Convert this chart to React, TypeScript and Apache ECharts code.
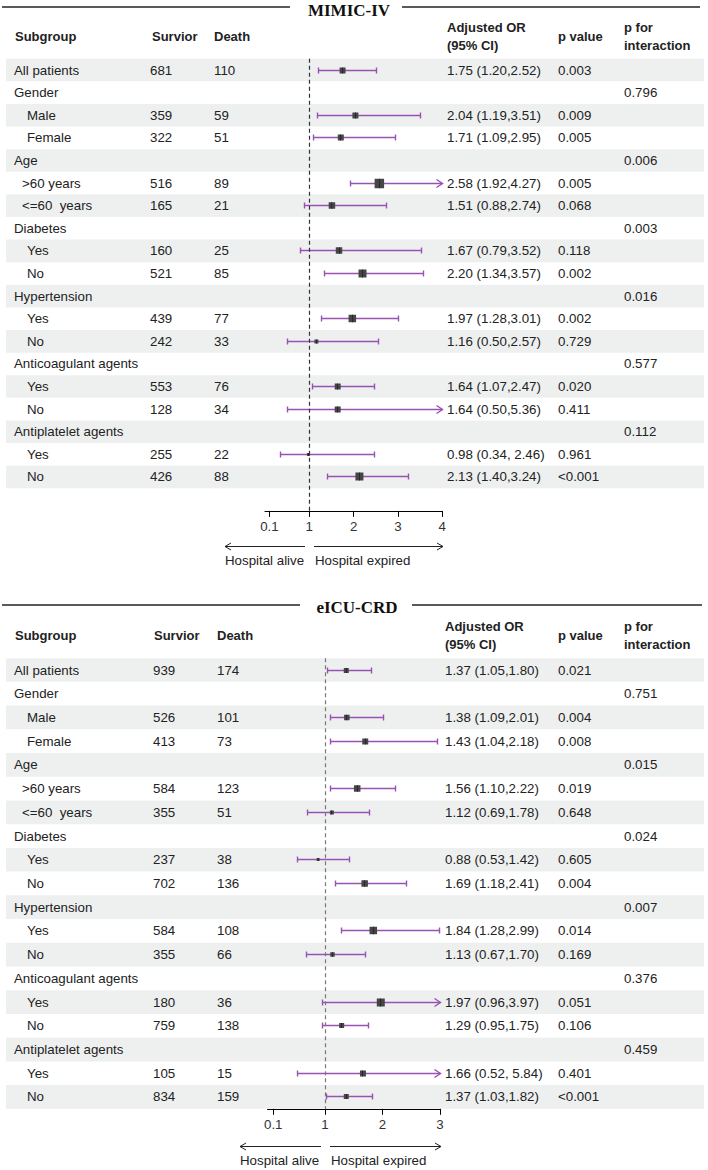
import React, { useEffect, useRef } from "react";
import * as echarts from "echarts";

const FONT = '"Liberation Sans", Arial, Helvetica, sans-serif';
const SERIF = '"Liberation Serif", "Times New Roman", serif';
const CI_COLOR = "#9a52b2";
const BOX_COLOR = "#454545";
const TEXT_COLOR = "#222";
const STRIPE = "#eef0f0";
const FS = 13.3;

// ---------- shared row structure ----------
const rowLabels = [
  "All patients", "Gender", "Male", "Female", "Age", ">60 years", "<=60  years",
  "Diabetes", "Yes", "No", "Hypertension", "Yes", "No",
  "Anticoagulant agents", "Yes", "No", "Antiplatelet agents", "Yes", "No",
];
const rowLevels = [0, 0, 1, 1, 0, 1, 1, 0, 1, 1, 0, 1, 1, 0, 1, 1, 0, 1, 1];

// ---------- MIMIC-IV ----------
const mimicSurvivor = [681, null, 359, 322, null, 516, 165, null, 160, 521, null, 439, 242, null, 553, 128, null, 255, 426];
const mimicDeath = [110, null, 59, 51, null, 89, 21, null, 25, 85, null, 77, 33, null, 76, 34, null, 22, 88];
const mimicOrText = [
  "1.75 (1.20,2.52)", "", "2.04 (1.19,3.51)", "1.71 (1.09,2.95)", "", "2.58 (1.92,4.27)", "1.51 (0.88,2.74)",
  "", "1.67 (0.79,3.52)", "2.20 (1.34,3.57)", "", "1.97 (1.28,3.01)", "1.16 (0.50,2.57)",
  "", "1.64 (1.07,2.47)", "1.64 (0.50,5.36)", "", "0.98 (0.34, 2.46)", "2.13 (1.40,3.24)",
];
const mimicP = ["0.003", "", "0.009", "0.005", "", "0.005", "0.068", "", "0.118", "0.002", "", "0.002", "0.729", "", "0.020", "0.411", "", "0.961", "<0.001"];
const mimicPInt = ["", "0.796", "", "", "0.006", "", "", "0.003", "", "", "0.016", "", "", "0.577", "", "", "0.112", "", ""];
const mimicOr = [1.75, null, 2.04, 1.71, null, 2.58, 1.51, null, 1.67, 2.2, null, 1.97, 1.16, null, 1.64, 1.64, null, 0.98, 2.13];
const mimicLo = [1.2, null, 1.19, 1.09, null, 1.92, 0.88, null, 0.79, 1.34, null, 1.28, 0.5, null, 1.07, 0.5, null, 0.34, 1.4];
const mimicHi = [2.52, null, 3.51, 2.95, null, 4.27, 2.74, null, 3.52, 3.57, null, 3.01, 2.57, null, 2.47, 5.36, null, 2.46, 3.24];
const mimicWeight = [6, null, 6, 6, null, 9.5, 6.5, null, 6.5, 8, null, 7.5, 4, null, 6, 6, null, 3, 8];
const mimicTicks = [0.1, 1, 2, 3, 4];

// ---------- eICU-CRD ----------
const eicuSurvivor = [939, null, 526, 413, null, 584, 355, null, 237, 702, null, 584, 355, null, 180, 759, null, 105, 834];
const eicuDeath = [174, null, 101, 73, null, 123, 51, null, 38, 136, null, 108, 66, null, 36, 138, null, 15, 159];
const eicuOrText = [
  "1.37 (1.05,1.80)", "", "1.38 (1.09,2.01)", "1.43 (1.04,2.18)", "", "1.56 (1.10,2.22)", "1.12 (0.69,1.78)",
  "", "0.88 (0.53,1.42)", "1.69 (1.18,2.41)", "", "1.84 (1.28,2.99)", "1.13 (0.67,1.70)",
  "", "1.97 (0.96,3.97)", "1.29 (0.95,1.75)", "", "1.66 (0.52, 5.84)", "1.37 (1.03,1.82)",
];
const eicuP = ["0.021", "", "0.004", "0.008", "", "0.019", "0.648", "", "0.605", "0.004", "", "0.014", "0.169", "", "0.051", "0.106", "", "0.401", "<0.001"];
const eicuPInt = ["", "0.751", "", "", "0.015", "", "", "0.024", "", "", "0.007", "", "", "0.376", "", "", "0.459", "", ""];
const eicuOr = [1.37, null, 1.38, 1.7, null, 1.56, 1.12, null, 0.88, 1.69, null, 1.84, 1.13, null, 1.97, 1.29, null, 1.66, 1.37];
const eicuLo = [1.05, null, 1.09, 1.1, null, 1.1, 0.69, null, 0.53, 1.18, null, 1.28, 0.67, null, 0.96, 0.95, null, 0.52, 1.03];
const eicuHi = [1.8, null, 2.01, 2.96, null, 2.22, 1.78, null, 1.42, 2.41, null, 2.99, 1.7, null, 3.97, 1.75, null, 5.84, 1.82];
const eicuWeight = [5, null, 5.5, 6, null, 6.5, 4, null, 3, 6.5, null, 7.5, 4.5, null, 8, 5, null, 6, 5];
const eicuTicks = [0.1, 1, 2, 3];

type PanelCfg = {
  survivor: (number | null)[];
  death: (number | null)[];
  orText: string[];
  p: string[];
  pInt: string[];
  or: (number | null)[];
  lo: (number | null)[];
  hi: (number | null)[];
  weight: (number | null)[];
  ticks: number[];
  xMax: number;
  row0: number;
  rowH: number;
  yMin: number;
  yMax: number;
  forestLeft: number;
  forestWidth: number;
  dashColor: string;
  cols: { surv: number; death: number; or: number; p: number; pint: number };
};

const panels: PanelCfg[] = [
  {
    survivor: mimicSurvivor, death: mimicDeath, orText: mimicOrText, p: mimicP, pInt: mimicPInt,
    or: mimicOr, lo: mimicLo, hi: mimicHi, weight: mimicWeight, ticks: mimicTicks, xMax: 4,
    row0: 70, rowH: 22.61, yMin: -0.5, yMax: 19.5, forestLeft: 265, forestWidth: 177.3,
    dashColor: "#333", cols: { surv: 150, death: 214, or: 447, p: 558, pint: 624 },
  },
  {
    survivor: eicuSurvivor, death: eicuDeath, orText: eicuOrText, p: eicuP, pInt: eicuPInt,
    or: eicuOr, lo: eicuLo, hi: eicuHi, weight: eicuWeight, ticks: eicuTicks, xMax: 3,
    row0: 670, rowH: 23.72, yMin: -0.5, yMax: 18.5, forestLeft: 267.5, forestWidth: 172.5,
    dashColor: "#7a7a7a", cols: { surv: 153, death: 217, or: 445, p: 558, pint: 624 },
  },
];

const ciStyle = () => ({ stroke: CI_COLOR, lineWidth: 1.4, fill: null as any });
const snap = (v: number) => Math.floor(v) + 0.5;

function buildOption() {
  const grid: any[] = [];
  const xAxis: any[] = [];
  const yAxis: any[] = [];
  const series: any[] = [];

  panels.forEach((p, pi) => {
    const top = p.row0 + p.yMin * p.rowH;
    const height = (p.yMax - p.yMin) * p.rowH;
    const tg = pi * 2;
    const fg = pi * 2 + 1;
    grid.push({ left: 0, top, width: 708, height, containLabel: false, outerBoundsMode: "none" });
    grid.push({ left: p.forestLeft, top, width: p.forestWidth, height, containLabel: false, outerBoundsMode: "none" });
    xAxis.push({ gridIndex: tg, type: "value", min: 0, max: 708, show: false });
    yAxis.push({ gridIndex: tg, type: "value", min: p.yMin, max: p.yMax, inverse: true, show: false });
    xAxis.push({
      gridIndex: fg, type: "value", min: 0, max: p.xMax,
      axisLine: { show: true, onZero: false, lineStyle: { color: "#000", width: 1 } },
      axisTick: { show: true, customValues: p.ticks, length: 6, lineStyle: { color: "#000", width: 1 } },
      axisLabel: { show: true, customValues: p.ticks, formatter: (v: number) => String(v), fontSize: FS, color: "#333", fontFamily: FONT, margin: 9 },
      splitLine: { show: false },
    });
    yAxis.push({ gridIndex: fg, type: "value", min: p.yMin, max: p.yMax, inverse: true, show: false });

    // stripes
    const stripeRows = rowLabels.map((_, i) => i).filter((i) => i % 2 === 0);
    series.push({
      type: "custom", xAxisIndex: tg, yAxisIndex: tg, silent: true, z: 0,
      data: stripeRows.map((r) => [0, r]),
      renderItem: (_params: any, api: any) => {
        const r = api.value(1);
        const a = api.coord([6, r - 0.5]);
        const b = api.coord([704, r + 0.5]);
        return { type: "rect", shape: { x: a[0], y: a[1], width: b[0] - a[0], height: b[1] - a[1] }, style: { fill: STRIPE } };
      },
    });

    // table cells
    const cells: { x: number; row: number; text: string }[] = [];
    rowLabels.forEach((lab, i) => {
      const sx = rowLevels[i] === 0 ? 14 : /^[<>]/.test(lab) ? 22 : 27;
      cells.push({ x: sx, row: i, text: lab });
      if (p.survivor[i] != null) cells.push({ x: p.cols.surv, row: i, text: String(p.survivor[i]) });
      if (p.death[i] != null) cells.push({ x: p.cols.death, row: i, text: String(p.death[i]) });
      if (p.orText[i]) cells.push({ x: p.cols.or, row: i, text: p.orText[i] });
      if (p.p[i]) cells.push({ x: p.cols.p, row: i, text: p.p[i] });
      if (p.pInt[i]) cells.push({ x: p.cols.pint, row: i, text: p.pInt[i] });
    });
    series.push({
      type: "custom", xAxisIndex: tg, yAxisIndex: tg, silent: true, z: 3,
      data: cells.map((c) => [c.x, c.row]),
      renderItem: (params: any, api: any) => {
        const pt = api.coord([api.value(0), api.value(1)]);
        return {
          type: "text", x: pt[0], y: pt[1],
          style: {
            text: cells[params.dataIndex].text, fill: TEXT_COLOR, fontSize: FS, fontFamily: FONT,
            align: "left", verticalAlign: "middle", textAlign: "left", textVerticalAlign: "middle",
          },
        };
      },
    });

    // forest marks
    const fdata: number[][] = [];
    p.or.forEach((v, i) => {
      if (v != null) fdata.push([v, i, p.lo[i] as number, p.hi[i] as number, p.weight[i] as number]);
    });
    series.push({
      type: "custom", xAxisIndex: fg, yAxisIndex: fg, silent: true, z: 4, clip: false,
      data: fdata,
      renderItem: (_params: any, api: any) => {
        const est = api.value(0), row = api.value(1), lo = api.value(2), hi = api.value(3), w = api.value(4);
        const c = api.coord([est, row]);
        const l = api.coord([Math.max(lo, 0), row]);
        const clipped = hi > p.xMax;
        const h = api.coord([Math.min(hi, p.xMax), row]);
        const y = snap(c[1]);
        const lx = snap(l[0]);
        const hx = snap(h[0]);
        const children: any[] = [
          { type: "line", shape: { x1: lx, y1: y, x2: hx, y2: y }, style: ciStyle() },
          { type: "line", shape: { x1: lx, y1: y - 3, x2: lx, y2: y + 3 }, style: ciStyle() },
          clipped
            ? { type: "polyline", shape: { points: [[hx - 6, y - 4], [hx, y], [hx - 6, y + 4]] }, style: ciStyle() }
            : { type: "line", shape: { x1: hx, y1: y - 3, x2: hx, y2: y + 3 }, style: ciStyle() },
          { type: "rect", shape: { x: c[0] - w / 2, y: y - w / 2, width: w, height: w }, style: { fill: BOX_COLOR, stroke: null } },
          { type: "line", shape: { x1: snap(c[0]), y1: y - w / 2, x2: snap(c[0]), y2: y + w / 2 }, style: { stroke: "#222", lineWidth: 0.8 } },
        ];
        return { type: "group", children };
      },
      markLine: {
        silent: true, symbol: ["none", "none"], animation: false,
        label: { show: false },
        lineStyle: { color: p.dashColor, type: [4, 3], width: 1.2 },
        data: [{ xAxis: 1 }],
      },
    });
  });

  // decorations: titles, rules, headers, direction arrows
  const graphic: any[] = [];
  const hdr = (text: string, x: number, y: number) => ({
    type: "text", x, y, silent: true,
    style: { text, fill: TEXT_COLOR, font: `bold 13px ${FONT}`, textAlign: "left", textVerticalAlign: "middle", align: "left", verticalAlign: "middle", lineHeight: 18 },
  });
  const txt = (text: string, x: number, y: number) => ({
    type: "text", x, y, silent: true,
    style: { text, fill: TEXT_COLOR, font: `${FS}px ${FONT}`, textAlign: "left", textVerticalAlign: "middle", align: "left", verticalAlign: "middle" },
  });
  const title = (text: string, cx: number, y: number, lx: number, rx1: number, rx2: number, ly: number) => [
    { type: "line", silent: true, shape: { x1: 2, y1: ly, x2: lx, y2: ly }, style: { stroke: "#222", lineWidth: 1.6 } },
    { type: "line", silent: true, shape: { x1: rx1, y1: ly, x2: rx2, y2: ly }, style: { stroke: "#222", lineWidth: 1.6 } },
    { type: "text", x: cx, y, silent: true, style: { text, fill: "#111", font: `bold 17px ${SERIF}`, textAlign: "center", textVerticalAlign: "middle", align: "center", verticalAlign: "middle" } },
  ];
  const arrows = (y: number, l1: number, l2: number, r1: number, r2: number) => [
    { type: "line", silent: true, shape: { x1: l1, y1: y, x2: l2, y2: y }, style: { stroke: "#222", lineWidth: 1 } },
    { type: "polyline", silent: true, shape: { points: [[l1 + 6, y - 3.5], [l1, y], [l1 + 6, y + 3.5]] }, style: { stroke: "#222", lineWidth: 1, fill: null } },
    { type: "line", silent: true, shape: { x1: r1, y1: y, x2: r2, y2: y }, style: { stroke: "#222", lineWidth: 1 } },
    { type: "polyline", silent: true, shape: { points: [[r2 - 6, y - 3.5], [r2, y], [r2 - 6, y + 3.5]] }, style: { stroke: "#222", lineWidth: 1, fill: null } },
  ];

  graphic.push(...title("MIMIC-IV", 349, 10, 290, 402, 700, 7));
  graphic.push(hdr("Subgroup", 15, 36), hdr("Survior", 152, 36), hdr("Death", 214, 36), hdr("Adjusted OR\n(95% CI)", 447, 36.5), hdr("p value", 558, 36.5), hdr("p for\ninteraction", 624, 36.5));
  graphic.push(...arrows(546.5, 225, 305, 314, 443));
  graphic.push(txt("Hospital alive", 225, 560), txt("Hospital expired", 315, 560));

  graphic.push(...title("eICU-CRD", 357, 607, 300, 412, 702, 605));
  graphic.push(hdr("Subgroup", 15, 635), hdr("Survior", 154, 635), hdr("Death", 217, 635), hdr("Adjusted OR\n(95% CI)", 445, 635), hdr("p value", 558, 635), hdr("p for\ninteraction", 624, 635));
  graphic.push(...arrows(1146.5, 240, 321, 330, 441));
  graphic.push(txt("Hospital alive", 240, 1160), txt("Hospital expired", 331, 1160));

  return {
    animation: false,
    backgroundColor: "#fff",
    textStyle: { fontFamily: FONT },
    grid, xAxis, yAxis, series, graphic,
  };
}

export default function App() {
  const ref = useRef<HTMLDivElement>(null);
  useEffect(() => {
    if (!ref.current) return;
    const chart = echarts.init(ref.current, null, { renderer: "svg", width: 708, height: 1170 });
    chart.setOption(buildOption() as any);
    return () => chart.dispose();
  }, []);
  return (
    <div
      ref={ref}
      style={{ position: "absolute", left: 0, top: 0, width: 708, height: 1170, background: "#fff" }}
    />
  );
}
